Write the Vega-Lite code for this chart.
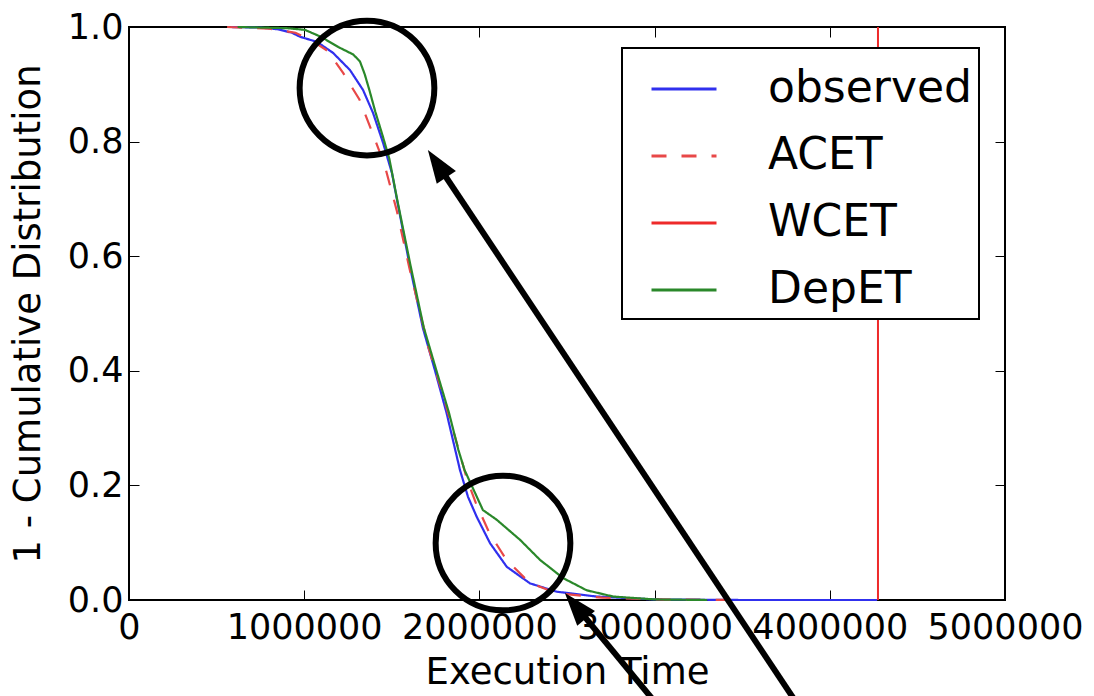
{
  "$schema": "https://vega.github.io/schema/vega-lite/v6.json",
  "autosize": "none",
  "padding": {"left": 129, "top": 27, "right": 89, "bottom": 96},
  "width": 876,
  "height": 573,
  "background": "white",
  "config": {
    "font": "DejaVu Sans",
    "view": {"stroke": "black", "strokeWidth": 2},
    "axis": {"grid": false, "domain": false, "labelColor": "black", "titleColor": "black", "tickColor": "black", "labelFont": "DejaVu Sans", "titleFont": "DejaVu Sans", "labelFontSize": 35, "titleFontSize": 37, "titleFontWeight": "normal", "tickSize": -10, "tickWidth": 1, "labelOverlap": false, "labelFlush": false, "labelBound": false}
  },
  "datasets": {
    "curves": [
      {"series": "observed", "x": 580000, "y": 1.0},
      {"series": "observed", "x": 750000, "y": 0.999},
      {"series": "observed", "x": 850000, "y": 0.996},
      {"series": "observed", "x": 930000, "y": 0.99},
      {"series": "observed", "x": 976000, "y": 0.983},
      {"series": "observed", "x": 1073000, "y": 0.974},
      {"series": "observed", "x": 1164000, "y": 0.955},
      {"series": "observed", "x": 1261000, "y": 0.925},
      {"series": "observed", "x": 1336000, "y": 0.89},
      {"series": "observed", "x": 1393000, "y": 0.85},
      {"series": "observed", "x": 1450000, "y": 0.798},
      {"series": "observed", "x": 1501000, "y": 0.745},
      {"series": "observed", "x": 1530000, "y": 0.698},
      {"series": "observed", "x": 1604000, "y": 0.581},
      {"series": "observed", "x": 1678000, "y": 0.474},
      {"series": "observed", "x": 1747000, "y": 0.4},
      {"series": "observed", "x": 1813000, "y": 0.326},
      {"series": "observed", "x": 1889000, "y": 0.227},
      {"series": "observed", "x": 1935000, "y": 0.18},
      {"series": "observed", "x": 1985000, "y": 0.145},
      {"series": "observed", "x": 2061000, "y": 0.099},
      {"series": "observed", "x": 2156000, "y": 0.058},
      {"series": "observed", "x": 2289000, "y": 0.029},
      {"series": "observed", "x": 2441000, "y": 0.0145},
      {"series": "observed", "x": 2669000, "y": 0.006},
      {"series": "observed", "x": 3000000, "y": 0.001},
      {"series": "observed", "x": 3500000, "y": 0.0},
      {"series": "observed", "x": 4270000, "y": 0.0},
      {"series": "ACET", "x": 560000, "y": 1.0},
      {"series": "ACET", "x": 800000, "y": 0.997},
      {"series": "ACET", "x": 950000, "y": 0.99},
      {"series": "ACET", "x": 1050000, "y": 0.975},
      {"series": "ACET", "x": 1135000, "y": 0.958},
      {"series": "ACET", "x": 1222000, "y": 0.92},
      {"series": "ACET", "x": 1316000, "y": 0.873},
      {"series": "ACET", "x": 1390000, "y": 0.815},
      {"series": "ACET", "x": 1458000, "y": 0.76},
      {"series": "ACET", "x": 1528000, "y": 0.68},
      {"series": "ACET", "x": 1600000, "y": 0.58},
      {"series": "ACET", "x": 1710000, "y": 0.44},
      {"series": "ACET", "x": 1790000, "y": 0.36},
      {"series": "ACET", "x": 1866000, "y": 0.279},
      {"series": "ACET", "x": 1930000, "y": 0.21},
      {"series": "ACET", "x": 1980000, "y": 0.169},
      {"series": "ACET", "x": 2057000, "y": 0.117},
      {"series": "ACET", "x": 2154000, "y": 0.07},
      {"series": "ACET", "x": 2286000, "y": 0.03},
      {"series": "ACET", "x": 2440000, "y": 0.012},
      {"series": "ACET", "x": 2700000, "y": 0.004},
      {"series": "ACET", "x": 3000000, "y": 0.001},
      {"series": "ACET", "x": 3500000, "y": 0.0},
      {"series": "DepET", "x": 620000, "y": 1.0},
      {"series": "DepET", "x": 900000, "y": 0.998},
      {"series": "DepET", "x": 1004000, "y": 0.995},
      {"series": "DepET", "x": 1095000, "y": 0.983},
      {"series": "DepET", "x": 1195000, "y": 0.965},
      {"series": "DepET", "x": 1280000, "y": 0.952},
      {"series": "DepET", "x": 1318000, "y": 0.94},
      {"series": "DepET", "x": 1345000, "y": 0.918},
      {"series": "DepET", "x": 1372000, "y": 0.89},
      {"series": "DepET", "x": 1406000, "y": 0.852},
      {"series": "DepET", "x": 1446000, "y": 0.812},
      {"series": "DepET", "x": 1486000, "y": 0.77},
      {"series": "DepET", "x": 1530000, "y": 0.7},
      {"series": "DepET", "x": 1606000, "y": 0.585},
      {"series": "DepET", "x": 1682000, "y": 0.476},
      {"series": "DepET", "x": 1755000, "y": 0.4},
      {"series": "DepET", "x": 1827000, "y": 0.326},
      {"series": "DepET", "x": 1880000, "y": 0.262},
      {"series": "DepET", "x": 1915000, "y": 0.227},
      {"series": "DepET", "x": 2020000, "y": 0.157},
      {"series": "DepET", "x": 2099000, "y": 0.14},
      {"series": "DepET", "x": 2232000, "y": 0.105},
      {"series": "DepET", "x": 2346000, "y": 0.07},
      {"series": "DepET", "x": 2479000, "y": 0.038},
      {"series": "DepET", "x": 2612000, "y": 0.017},
      {"series": "DepET", "x": 2764000, "y": 0.006},
      {"series": "DepET", "x": 3000000, "y": 0.001},
      {"series": "DepET", "x": 3300000, "y": 0.0}
    ],
    "wcet": [{"series": "WCET", "x": 4275000}],
    "circles": [
      {"id": "upper", "x": 1358400, "y": 0.8935},
      {"id": "lower", "x": 2134700, "y": 0.0995}
    ],
    "arrows": [
      {"id": "upper", "x_tail": 3811000, "y_tail": -0.18, "x_head": 1758600, "y_head": 0.7614},
      {"id": "lower", "x_tail": 3007000, "y_tail": -0.18, "x_head": 2548500, "y_head": -0.0099}
    ]
  },
  "layer": [
    {
      "data": {"name": "curves"},
      "mark": {"type": "line", "strokeWidth": 2.2},
      "encoding": {
        "x": {"field": "x", "type": "quantitative", "scale": {"domain": [0, 5000000], "nice": false, "zero": false},
              "axis": {"orient": "bottom", "values": [0, 1000000, 2000000, 3000000, 4000000, 5000000], "format": "d", "labelPadding": 20, "title": "Execution Time", "titlePadding": 9}},
        "y": {"field": "y", "type": "quantitative", "scale": {"domain": [0, 1], "nice": false},
              "axis": {"orient": "left", "values": [0, 0.2, 0.4, 0.6, 0.8, 1.0], "format": ".1f", "labelPadding": 16, "title": "1 - Cumulative Distribution", "titlePadding": 20}},
        "color": {"field": "series", "type": "nominal",
                  "scale": {"domain": ["observed", "ACET", "WCET", "DepET"], "range": ["#3030ee", "#e84848", "#ee2a2a", "#2a882a"]},
                  "legend": {"title": null, "orient": "none", "legendX": 493, "legendY": 21, "padding": 7, "labelFontSize": 44, "labelFont": "DejaVu Sans", "labelColor": "black", "labelOffset": 50, "labelLimit": 400, "symbolType": "stroke", "symbolSize": 4225, "symbolStrokeWidth": 3, "rowPadding": 11, "strokeColor": "black", "fillColor": "white", "cornerRadius": 0, "symbolOffset": 21,
                             "encode": {"legend": {"update": {"strokeWidth": {"value": 2}}}}}},
        "strokeDash": {"field": "series", "type": "nominal",
                       "scale": {"domain": ["observed", "ACET", "WCET", "DepET"], "range": [[1, 0], [15, 15], [1, 0], [1, 0]]},
                       "legend": null},
        "order": {"field": "x", "type": "quantitative"}
      }
    },
    {
      "data": {"name": "wcet"},
      "mark": {"type": "rule", "strokeWidth": 2},
      "encoding": {
        "x": {"field": "x", "type": "quantitative",
              "axis": {"orient": "top", "values": [0, 1000000, 2000000, 3000000, 4000000, 5000000], "labels": false, "title": null}},
        "color": {"field": "series", "type": "nominal"},
        "strokeDash": {"field": "series", "type": "nominal"}
      }
    },
    {
      "data": {"name": "circles"},
      "mark": {"type": "point", "shape": "circle", "filled": false, "stroke": "black", "strokeWidth": 6, "size": 18146, "opacity": 1, "clip": false},
      "encoding": {
        "x": {"field": "x", "type": "quantitative", "axis": null},
        "y": {"field": "y", "type": "quantitative",
              "axis": {"orient": "right", "values": [0, 0.2, 0.4, 0.6, 0.8, 1.0], "labels": false, "title": null}}
      }
    },
    {
      "data": {"name": "arrows"},
      "mark": {"type": "rule", "stroke": "black", "strokeWidth": 6, "clip": false},
      "encoding": {
        "x": {"field": "x_tail", "type": "quantitative", "axis": null},
        "y": {"field": "y_tail", "type": "quantitative", "axis": null},
        "x2": {"field": "x_head"},
        "y2": {"field": "y_head"}
      }
    },
    {
      "data": {"name": "arrows"},
      "transform": [{"filter": "datum.id === 'upper'"}],
      "mark": {"type": "point", "shape": "M0,-1L0.7,1L-0.7,1Z", "filled": true, "fill": "black", "stroke": null, "size": 1089, "angle": 326, "opacity": 1, "clip": false},
      "encoding": {
        "x": {"field": "x_head", "type": "quantitative", "axis": null},
        "y": {"field": "y_head", "type": "quantitative", "axis": null}
      }
    },
    {
      "data": {"name": "arrows"},
      "transform": [{"filter": "datum.id === 'lower'"}],
      "mark": {"type": "point", "shape": "M0,-1L0.7,1L-0.7,1Z", "filled": true, "fill": "black", "stroke": null, "size": 1089, "angle": 320, "opacity": 1, "clip": false},
      "encoding": {
        "x": {"field": "x_head", "type": "quantitative", "axis": null},
        "y": {"field": "y_head", "type": "quantitative", "axis": null}
      }
    }
  ],
  "resolve": {"axis": {"x": "independent", "y": "independent"}}
}
